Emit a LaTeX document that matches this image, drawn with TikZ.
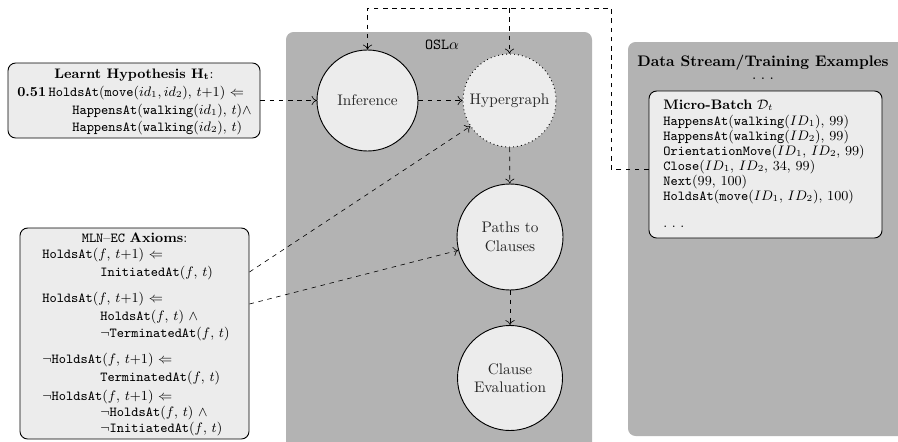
\documentclass[tikz,border=0pt]{standalone}
\usepackage{amsmath,amssymb}
\usetikzlibrary{calc,arrows.meta}
\definecolor{panelgray}{RGB}{179,179,179}
\definecolor{boxgray}{RGB}{236,236,236}
\newcommand{\spaceddots}{.\hspace{3pt}.\hspace{3pt}.}
\begin{document}
\begin{tikzpicture}[x=0.654pt,y=-0.654pt,
  panel/.style={fill=panelgray, rounded corners=5pt},
  infobox/.style={draw, fill=boxgray, rounded corners=5pt, line width=0.6pt, inner sep=0pt},
  proc/.style={circle, draw, fill=boxgray, line width=0.6pt, inner sep=1pt, align=center, text=black!85},
  boxline/.style={anchor=base west, inner sep=0pt, font=\small},
  boxtitle/.style={inner sep=0pt, font=\small},
  flow/.style={-{To[length=3.2pt,width=6pt]}, dashed, thin}
]
% page frame
\clip (0,0) rectangle (898,441);

% background panels
\fill[panel] (286,32) rectangle (592,470);
\fill[panel] (628,42) rectangle (910,436);
\node (osltitle) at (442,45) {\texttt{OSL}$\alpha$};
\node (dstitle) at (763,63) {\textbf{Data Stream/Training Examples}};
\node[inner sep=0pt] (dsdots) at (763,79) {\spaceddots};

% processing steps
\node[proc, minimum size=101*0.654pt] (inf) at (367.5,100.5) {Inference};
\node[proc, dotted, minimum size=93*0.654pt] (hyp) at (509.5,100.5) {Hypergraph};
\node[proc, minimum size=106*0.654pt] (paths) at (510,237) {Paths to\\Clauses};
\node[proc, minimum size=105*0.654pt] (clause) at (510,378) {Clause\\Evaluation};

% learnt hypothesis
\node[infobox, minimum width=252*0.654pt, minimum height=75*0.654pt] (lhbox) at (134,100.5) {};
\node[boxtitle] (lht) at (134,75) {\textbf{Learnt Hypothesis $\mathbf{H_t}$}:};
\node[boxline] (lh1) at (17,96) {\textbf{0.51}\,\texttt{HoldsAt}(\texttt{move}($id_1,id_2$), $t{+}1$) $\Leftarrow$};
\node[boxline] (lh2) at (72,114) {\texttt{HappensAt}(\texttt{walking}($id_1$), $t$)$\wedge$};
\node[boxline] (lh3) at (72,131) {\texttt{HappensAt}(\texttt{walking}($id_2$), $t$)};

% MLN-EC axioms
\node[infobox, minimum width=229*0.654pt, minimum height=211*0.654pt] (mln) at (134.5,333.5) {};
\node[boxtitle] (mlnt) at (134.5,238) {\texttt{MLN}\textendash\texttt{EC} \textbf{Axioms}:};
\node[boxline] (ax1) at (42,258) {\texttt{HoldsAt}($f$, $t{+}1$) $\Leftarrow$};
\node[boxline] (ax2) at (100,276) {\texttt{InitiatedAt}($f$, $t$)};
\node[boxline] (ax3) at (42,302) {\texttt{HoldsAt}($f$, $t{+}1$) $\Leftarrow$};
\node[boxline] (ax4) at (100,320) {\texttt{HoldsAt}($f$, $t$) $\wedge$};
\node[boxline] (ax5) at (100,337) {$\neg$\texttt{TerminatedAt}($f$, $t$)};
\node[boxline] (ax6) at (42,363) {$\neg$\texttt{HoldsAt}($f$, $t{+}1$) $\Leftarrow$};
\node[boxline] (ax7) at (100,381) {\texttt{TerminatedAt}($f$, $t$)};
\node[boxline] (ax8) at (42,400) {$\neg$\texttt{HoldsAt}($f$, $t{+}1$) $\Leftarrow$};
\node[boxline] (ax9) at (100,416) {$\neg$\texttt{HoldsAt}($f$, $t$) $\wedge$};
\node[boxline] (ax10) at (100,432) {$\neg$\texttt{InitiatedAt}($f$, $t$)};

% micro-batch
\node[infobox, minimum width=233*0.654pt, minimum height=147*0.654pt] (mb) at (765.5,164.5) {};
\node[boxline] (mbt) at (663,109) {\textbf{Micro-Batch} $\mathcal{D}_t$};
\node[boxline] (mb1) at (663,125) {\texttt{HappensAt}(\texttt{walking}($ID_1$), 99)};
\node[boxline] (mb2) at (663,140) {\texttt{HappensAt}(\texttt{walking}($ID_2$), 99)};
\node[boxline] (mb3) at (663,155) {\texttt{OrientationMove}($ID_1$, $ID_2$, 99)};
\node[boxline] (mb4) at (663,170) {\texttt{Close}($ID_1$, $ID_2$, 34, 99)};
\node[boxline] (mb5) at (663,185) {\texttt{Next}(99, 100)};
\node[boxline] (mb6) at (663,200) {\texttt{HoldsAt}(\texttt{move}($ID_1$, $ID_2$), 100)};
\node[boxline] (mb7) at (663,227) {\spaceddots};

% connector anchor points
\coordinate (mlnA) at (mln.east |- 0,272);
\coordinate (mlnB) at (mln.east |- 0,304);
\coordinate (mbA) at (mb.west |- 0,169);
\coordinate (bendlow) at (611,169);
\coordinate (bendhigh) at (611,8);
\coordinate (topinf) at (inf.north |- 0,8);
\coordinate (tophyp) at (hyp.north |- 0,8);

% connectors
\draw[flow] (lhbox.east) -- (inf.west);
\draw[flow] (inf) -- (hyp);
\draw[flow] (hyp) -- (paths);
\draw[flow] (paths) -- (clause);
\draw[flow] (mlnA) -- (hyp);
\draw[flow] (mlnB) -- (paths);
\draw[flow] (mbA) -- (bendlow) -- (bendhigh) -- (topinf) -- (inf.north);
\draw[flow] (tophyp) -- (hyp.north);
\end{tikzpicture}
\end{document}
